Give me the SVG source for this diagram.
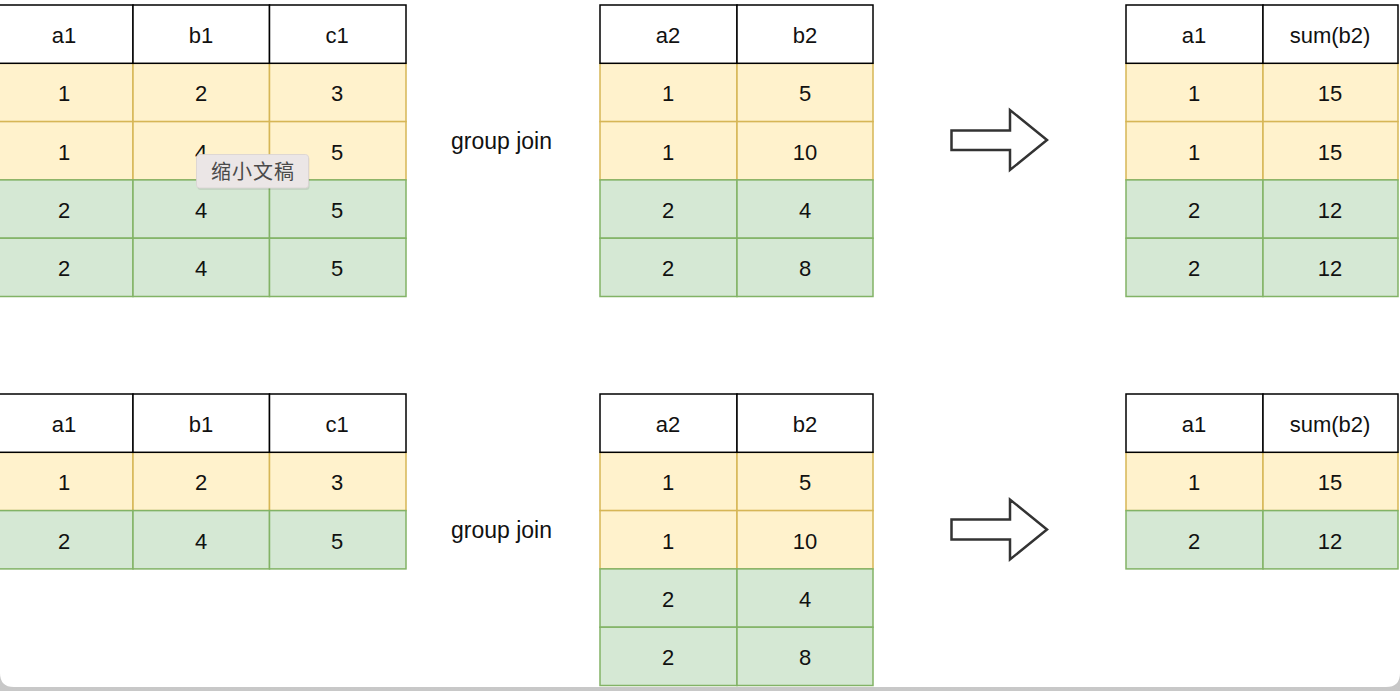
<svg xmlns="http://www.w3.org/2000/svg" width="1400" height="691" viewBox="0 0 1400 691">
<defs>
<style>
.h{fill:#ffffff;stroke:#000000;stroke-width:1.5}
.y{fill:#fff2cc;stroke:#d6b656;stroke-width:1.5}
.g{fill:#d5e8d4;stroke:#82b366;stroke-width:1.5}
text{font-family:"Liberation Sans",Arial,sans-serif;font-size:22px;fill:#111;text-anchor:middle}
.lbl{text-anchor:start;font-size:23px}
.tip{font-family:"Noto Sans CJK SC","Noto Sans",sans-serif;font-size:20px;fill:#4a4a4a;text-anchor:middle;letter-spacing:1px}
.arr{fill:#ffffff;stroke:#333333;stroke-width:2.5;stroke-linejoin:miter}
</style>
<linearGradient id="band" x1="0" y1="0" x2="0" y2="1">
<stop offset="0" stop-color="#9a9a9a"/>
<stop offset="1" stop-color="#c8c8c8"/>
</linearGradient>
</defs>
<rect x="0" y="0" width="1400" height="691" fill="url(#band)"/>
<path d="M0 0H1400V673Q1400 687 1386 687H14Q0 687 0 673Z" fill="#ffffff"/>

<g id="t1-top">
<rect class="y" x="-3.5" y="63.3" width="136.5" height="58.3"/><rect class="y" x="133" y="63.3" width="136.5" height="58.3"/><rect class="y" x="269.5" y="63.3" width="136.5" height="58.3"/>
<rect class="y" x="-3.5" y="121.6" width="136.5" height="58.3"/><rect class="y" x="133" y="121.6" width="136.5" height="58.3"/><rect class="y" x="269.5" y="121.6" width="136.5" height="58.3"/>
<rect class="g" x="-3.5" y="179.9" width="136.5" height="58.3"/><rect class="g" x="133" y="179.9" width="136.5" height="58.3"/><rect class="g" x="269.5" y="179.9" width="136.5" height="58.3"/>
<rect class="g" x="-3.5" y="238.2" width="136.5" height="58.3"/><rect class="g" x="133" y="238.2" width="136.5" height="58.3"/><rect class="g" x="269.5" y="238.2" width="136.5" height="58.3"/>
<rect class="h" x="-3.5" y="5" width="136.5" height="58.3"/><rect class="h" x="133" y="5" width="136.5" height="58.3"/><rect class="h" x="269.5" y="5" width="136.5" height="58.3"/>
<text x="64" y="43">a1</text><text x="201" y="43">b1</text><text x="337" y="43">c1</text>
<text x="64" y="101">1</text><text x="201" y="101">2</text><text x="337" y="101">3</text>
<text x="64" y="160">1</text><text x="201" y="160">4</text><text x="337" y="160">5</text>
<text x="64" y="218">2</text><text x="201" y="218">4</text><text x="337" y="218">5</text>
<text x="64" y="276">2</text><text x="201" y="276">4</text><text x="337" y="276">5</text>
</g>

<g id="t2-top">
<rect class="y" x="600" y="63.3" width="137" height="58.3"/><rect class="y" x="737" y="63.3" width="136" height="58.3"/>
<rect class="y" x="600" y="121.6" width="137" height="58.3"/><rect class="y" x="737" y="121.6" width="136" height="58.3"/>
<rect class="g" x="600" y="179.9" width="137" height="58.3"/><rect class="g" x="737" y="179.9" width="136" height="58.3"/>
<rect class="g" x="600" y="238.2" width="137" height="58.3"/><rect class="g" x="737" y="238.2" width="136" height="58.3"/>
<rect class="h" x="600" y="5" width="137" height="58.3"/><rect class="h" x="737" y="5" width="136" height="58.3"/>
<text x="668" y="43">a2</text><text x="805" y="43">b2</text>
<text x="668" y="101">1</text><text x="805" y="101">5</text>
<text x="668" y="160">1</text><text x="805" y="160">10</text>
<text x="668" y="218">2</text><text x="805" y="218">4</text>
<text x="668" y="276">2</text><text x="805" y="276">8</text>
</g>

<g id="t3-top">
<rect class="y" x="1126" y="63.3" width="137" height="58.3"/><rect class="y" x="1263" y="63.3" width="135" height="58.3"/>
<rect class="y" x="1126" y="121.6" width="137" height="58.3"/><rect class="y" x="1263" y="121.6" width="135" height="58.3"/>
<rect class="g" x="1126" y="179.9" width="137" height="58.3"/><rect class="g" x="1263" y="179.9" width="135" height="58.3"/>
<rect class="g" x="1126" y="238.2" width="137" height="58.3"/><rect class="g" x="1263" y="238.2" width="135" height="58.3"/>
<rect class="h" x="1126" y="5" width="137" height="58.3"/><rect class="h" x="1263" y="5" width="135" height="58.3"/>
<text x="1194" y="43">a1</text><text x="1330" y="43">sum(b2)</text>
<text x="1194" y="101">1</text><text x="1330" y="101">15</text>
<text x="1194" y="160">1</text><text x="1330" y="160">15</text>
<text x="1194" y="218">2</text><text x="1330" y="218">12</text>
<text x="1194" y="276">2</text><text x="1330" y="276">12</text>
</g>

<g id="t1-bottom">
<rect class="y" x="-3.5" y="452.3" width="136.5" height="58.3"/><rect class="y" x="133" y="452.3" width="136.5" height="58.3"/><rect class="y" x="269.5" y="452.3" width="136.5" height="58.3"/>
<rect class="g" x="-3.5" y="510.6" width="136.5" height="58.3"/><rect class="g" x="133" y="510.6" width="136.5" height="58.3"/><rect class="g" x="269.5" y="510.6" width="136.5" height="58.3"/>
<rect class="h" x="-3.5" y="394" width="136.5" height="58.3"/><rect class="h" x="133" y="394" width="136.5" height="58.3"/><rect class="h" x="269.5" y="394" width="136.5" height="58.3"/>
<text x="64" y="432">a1</text><text x="201" y="432">b1</text><text x="337" y="432">c1</text>
<text x="64" y="490">1</text><text x="201" y="490">2</text><text x="337" y="490">3</text>
<text x="64" y="549">2</text><text x="201" y="549">4</text><text x="337" y="549">5</text>
</g>

<g id="t2-bottom">
<rect class="y" x="600" y="452.3" width="137" height="58.3"/><rect class="y" x="737" y="452.3" width="136" height="58.3"/>
<rect class="y" x="600" y="510.6" width="137" height="58.3"/><rect class="y" x="737" y="510.6" width="136" height="58.3"/>
<rect class="g" x="600" y="568.9" width="137" height="58.3"/><rect class="g" x="737" y="568.9" width="136" height="58.3"/>
<rect class="g" x="600" y="627.2" width="137" height="58.3"/><rect class="g" x="737" y="627.2" width="136" height="58.3"/>
<rect class="h" x="600" y="394" width="137" height="58.3"/><rect class="h" x="737" y="394" width="136" height="58.3"/>
<text x="668" y="432">a2</text><text x="805" y="432">b2</text>
<text x="668" y="490">1</text><text x="805" y="490">5</text>
<text x="668" y="549">1</text><text x="805" y="549">10</text>
<text x="668" y="607">2</text><text x="805" y="607">4</text>
<text x="668" y="665">2</text><text x="805" y="665">8</text>
</g>

<g id="t3-bottom">
<rect class="y" x="1126" y="452.3" width="137" height="58.3"/><rect class="y" x="1263" y="452.3" width="135" height="58.3"/>
<rect class="g" x="1126" y="510.6" width="137" height="58.3"/><rect class="g" x="1263" y="510.6" width="135" height="58.3"/>
<rect class="h" x="1126" y="394" width="137" height="58.3"/><rect class="h" x="1263" y="394" width="135" height="58.3"/>
<text x="1194" y="432">a1</text><text x="1330" y="432">sum(b2)</text>
<text x="1194" y="490">1</text><text x="1330" y="490">15</text>
<text x="1194" y="549">2</text><text x="1330" y="549">12</text>
</g>

<g id="label-top"><text class="lbl" x="451" y="149">group join</text></g>
<g id="label-bottom"><text class="lbl" x="451" y="538">group join</text></g>

<g id="connectors">
<path class="arr" d="M951.5 130.5H1010V110L1047 140L1010 170V150H951.5Z"/>
<path class="arr" d="M951.5 519.5H1010V499.5L1047 529.5L1010 559.5V539.5H951.5Z"/>
</g>

<g id="tooltip">
<rect x="197" y="155" width="112" height="34" rx="3" fill="#000" opacity="0.08" transform="translate(0.5 1)"/>
<rect x="196.5" y="154.5" width="112" height="33.5" rx="3" fill="#ebe6e6" stroke="#d8d2d2" stroke-width="0.8"/>
<text class="tip" x="253" y="179">缩小文稿</text>
</g>
</svg>
